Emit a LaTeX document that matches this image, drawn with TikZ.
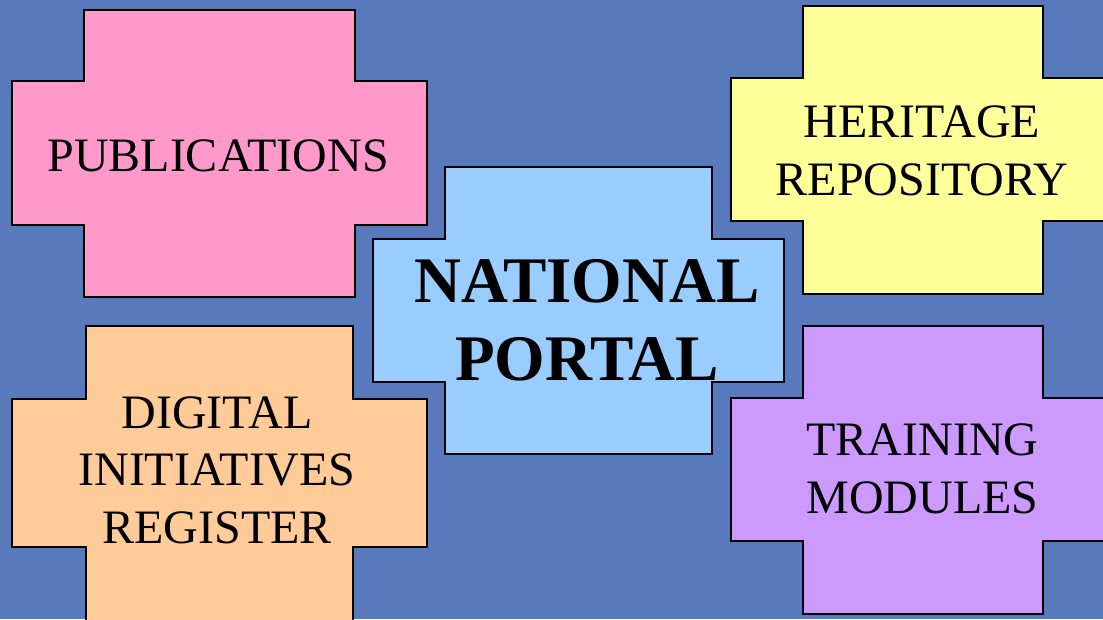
\documentclass[tikz,border=0pt]{standalone}
\usepackage{fontspec}
\setmainfont{Liberation Serif}
\definecolor{slide}{HTML}{587ABC}
\definecolor{pubpink}{HTML}{FF99CC}
\definecolor{dirorange}{HTML}{FFCC99}
\definecolor{natblue}{HTML}{99CCFF}
\definecolor{heryellow}{HTML}{FFFF99}
\definecolor{trnpurple}{HTML}{CC99FF}
% band left, arm left, arm right, band right, top, band top, band bottom, bottom, fill
\newcommand{\plusbox}[9]{%
  \filldraw[fill=#9] (#2,#5) -- (#3,#5) -- (#3,#6) -- (#4,#6) -- (#4,#7) -- (#3,#7)
    -- (#3,#8) -- (#2,#8) -- (#2,#7) -- (#1,#7) -- (#1,#6) -- (#2,#6) -- cycle;}
\tikzset{
  label/.style={align=center, inner sep=0pt, font=\fontsize{48}{57.6}\selectfont},
  biglabel/.style={label, font=\fontsize{65}{78}\selectfont\bfseries}
}
\begin{document}
\begin{tikzpicture}[x=1pt, y=-1pt, line width=1.8pt, line join=miter]
  \clip (0,0) rectangle (1103,619);
  \fill[slide] (0,0) rectangle (1103,619);
  \plusbox{12}{84}{355}{427}{10}{81}{225}{297}{pubpink}
  \plusbox{12}{86}{353}{427}{326}{399}{547}{640}{dirorange}
  \plusbox{373}{445}{712}{784}{167}{239}{382}{454}{natblue}
  \plusbox{731}{803}{1043}{1120}{6}{78}{221}{294}{heryellow}
  \plusbox{731}{803}{1043}{1120}{326}{398}{541}{614}{trnpurple}
  \node[label] (pub) at (218,155.5) {PUBLICATIONS};
  \node[label] (dir) at (217,470) {DIGITAL\\INITIATIVES\\REGISTER};
  \node[biglabel] (nat) at (587,320) {NATIONAL\\PORTAL};
  \node[label] (her) at (922,151) {HERITAGE\\REPOSITORY};
  \node[label] (trn) at (922.5,469) {TRAINING\\MODULES};
\end{tikzpicture}
\end{document}
